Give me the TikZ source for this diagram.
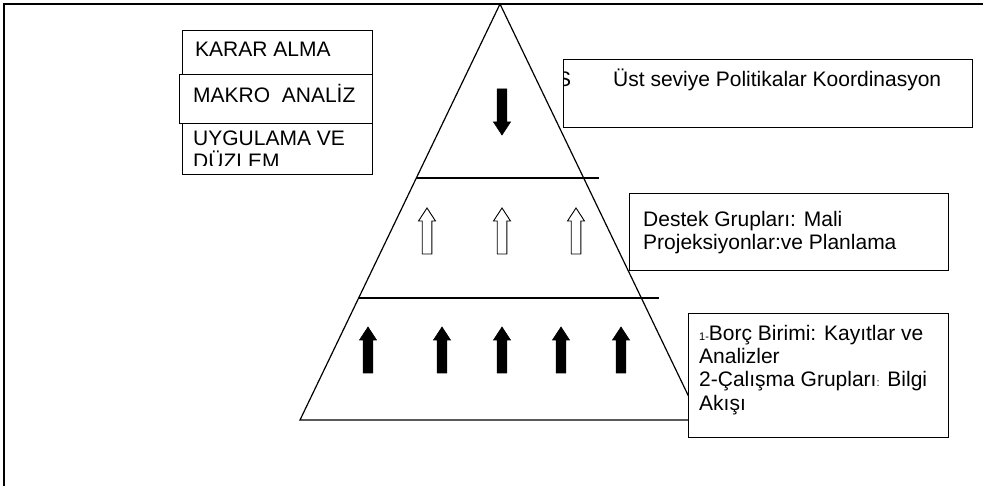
\documentclass[tikz,border=0pt]{standalone}
\usepackage{fontspec}
\setmainfont{Liberation Sans}
\usetikzlibrary{positioning,calc}
\tikzset{
  levelbox/.style={rectangle, draw=black, fill=white, line width=1.2pt,
                   inner sep=0pt, anchor=north west},
  boxtext/.style={anchor=base west, inner sep=0pt, align=left,
                  font=\fontsize{21}{23.3}\selectfont},
  fullarrow/.style={fill=black, draw=black, line width=0.6pt},
  openarrow/.style={fill=white, draw=black, line width=0.9pt},
  tierline/.style={line width=1.1pt},
  blockarrow/.pic={
    \path[pic actions] (0,0) -- (8.5,13) -- (4.8,13) -- (4.8,46)
      -- (-4.8,46) -- (-4.8,13) -- (-8.5,13) -- cycle;}
}
\newcommand{\smallfs}{\fontsize{11}{11}\selectfont}

\begin{document}
\begin{tikzpicture}[x=1pt, y=-1pt]
\useasboundingbox (0,0) rectangle (983,486);
% frame
\draw[line width=1.5pt] (4,486) -- (4,4) -- (983,4);

% pyramid
\draw[line width=1.2pt] (500,4) -- (300,420) -- (700,420) -- cycle;
\draw[tierline] (416,178) -- (599,178);
\draw[tierline] (359,298) -- (659,298);

\pic[fullarrow, rotate=180] (down) at (502,135) {blockarrow};
\foreach \x in {427,502,576}
  \pic[openarrow] (open\x) at (\x,208) {blockarrow};
\foreach \x in {368,442,502,561,621}
  \pic[fullarrow] (full\x) at (\x,327) {blockarrow};

% left boxes (base anchor = last line)
\node[levelbox, minimum width=190, minimum height=44] (karar) at (182,30) {};
\node[levelbox, minimum width=193, minimum height=49] (makro) at (179,74) {};
\node[levelbox, minimum width=190, minimum height=51] (uygulama) at (182,123) {};
\node[boxtext] (kararT) at ($(karar.north west)+(13,27)$) {KARAR ALMA};
\node[boxtext] (makroT) at ($(makro.north west)+(14,29)$) {MAKRO\ \ ANALİZ};
\begin{scope}
  \clip (182,123) rectangle (372,166);
  \node[boxtext] (uygulamaT) at ($(uygulama.north west)+(11,46)$)
    {UYGULAMA VE\\DÜZLEM};
\end{scope}

% right boxes
\node[levelbox, minimum width=409, minimum height=68] (ust) at (563,59) {};
\begin{scope}
  \clip (563,59) rectangle (972,127);
  \node[boxtext] (ustS) at ($(ust.north west)+(-6,28)$) {S};
\end{scope}
\node[boxtext] (ustT) at ($(ust.north west)+(50,28)$)
  {Üst seviye Politikalar Koordinasyon};

\node[levelbox, minimum width=319, minimum height=77] (destek) at (629,193) {};
\node[boxtext] (destekT) at ($(destek.north west)+(14,57)$)
  {Destek Grupları: Mali\\Projeksiyonlar:ve Planlama};

\node[levelbox, minimum width=260, minimum height=124] (borc) at (688,313) {};
\node[boxtext] (borcT) at ($(borc.north west)+(11,97)$)
  {{\smallfs 1-}Borç Birimi: Kayıtlar ve\\Analizler\\
   2-Çalışma Grupları{\smallfs :} Bilgi\\Akışı};
\end{tikzpicture}
\end{document}
